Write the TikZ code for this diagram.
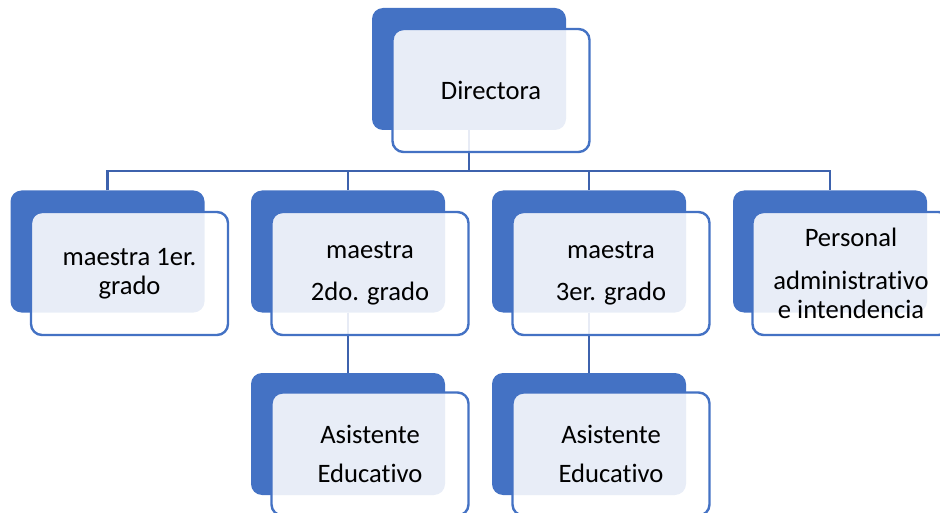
\documentclass[tikz,border=0pt]{standalone}
\usepackage{fontspec}
\setmainfont[Ligatures={NoCommon}]{Carlito}
\definecolor{accent}{HTML}{4472C4}
\definecolor{linkc}{HTML}{3D62AD}
\begin{document}
\begin{tikzpicture}[x=1pt,y=-1pt,
  backbox/.style={fill=accent, rounded corners=11pt, minimum width=194pt, minimum height=122pt, inner sep=0pt},
  frontbox/.style={draw=accent, line width=2.4pt, fill=white, fill opacity=0.88, text opacity=1,
    rounded corners=11pt, minimum width=197pt, minimum height=123pt, inner sep=0pt, align=center,
    font=\fontsize{26.6}{29}\selectfont},
  link/.style={draw=linkc, line width=2.2pt}]
\useasboundingbox (0,0) rectangle (940,513);
\clip (0,0) rectangle (940,513);
% back boxes
\node[backbox] (dirb) at (469,69) {};
\node[backbox] (m1b) at (107.5,251.5) {};
\node[backbox] (m2b) at (348,251.5) {};
\node[backbox] (m3b) at (589,251.5) {};
\node[backbox] (m4b) at (830,251.5) {};
\node[backbox] (a1b) at (348,434) {};
\node[backbox] (a2b) at (589,434) {};
% connectors
\coordinate (bus) at (0,171);
\draw[link] (dirb.south) -- (dirb.south |- bus);
\draw[link] (m1b.north) -- (m1b.north |- bus) -- (m4b.north |- bus) -- (m4b.north);
\draw[link] (m2b.north) -- (m2b.north |- bus);
\draw[link] (m3b.north) -- (m3b.north |- bus);
\draw[link] (m2b.south) -- (a1b.north);
\draw[link] (m3b.south) -- (a2b.north);
% front boxes
\node[frontbox] (dir) at (491,90.5) {Directora};
\node[frontbox] (m1) at (129.5,273.5) {maestra 1er.\\grado};
\node[frontbox] (m2) at (370,273.5) {maestra\\[13pt]2do. grado};
\node[frontbox] (m3) at (611,273.5) {maestra\\[13pt]3er. grado};
\node[frontbox] (m4) at (851,273.5) {Personal\\[14pt]administrativo\\e intendencia};
\node[frontbox] (a1) at (370,454) {Asistente\\[10pt]Educativo};
\node[frontbox] (a2) at (611,454) {Asistente\\[10pt]Educativo};
\end{tikzpicture}
\end{document}
